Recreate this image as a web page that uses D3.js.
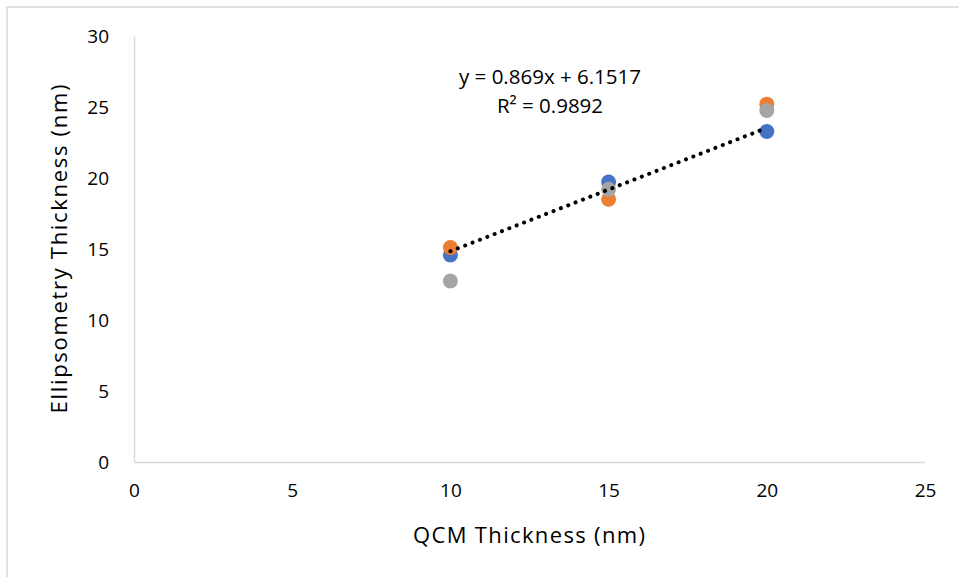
<!DOCTYPE html>
<html>
<head>
<meta charset="utf-8">
<script src="https://d3js.org/d3.v7.min.js"></script>
<style>
  html, body { margin: 0; padding: 0; background: #fff; }
  svg text { font-family: "Open Sans", "Noto Sans", sans-serif; fill: #000; }
</style>
</head>
<body>
<svg width="959" height="577"></svg>
<script>
// QCM thickness (x) for every series
var qcm = [10, 15, 20];
// ellipsometry thickness readings, one array per series
var seriesBlue = [14.58, 19.71, 23.27];
var seriesOrange = [15.1, 18.5, 25.2];
var seriesGray = [12.75, 19.2, 24.75];
var xTicks = [0, 5, 10, 15, 20, 25];
var yTicks = [0, 5, 10, 15, 20, 25, 30];
// linear trendline on the blue series
var slope = 0.869, intercept = 6.1517;
var trendLabel = ["y = 0.869x + 6.1517", "R² = 0.9892"];

var svg = d3.select("svg"),
    margin = {top: 36, right: 34, bottom: 115, left: 134},
    width = 959 - margin.left - margin.right,
    height = 577 - margin.top - margin.bottom;

// outer chart border
svg.append("rect")
    .attr("x", 7).attr("y", 7)
    .attr("width", 970).attr("height", 590)
    .attr("fill", "none")
    .attr("stroke", "#d9d9d9")
    .attr("stroke-width", 1.5);

var g = svg.append("g").attr("transform", "translate(" + margin.left + "," + margin.top + ")");

var x = d3.scaleLinear().domain([0, 25]).range([0, width]);
var y = d3.scaleLinear().domain([0, 30]).range([height, 0]);

// axes
var xAxis = g.append("g")
    .attr("transform", "translate(0," + height + ")")
    .call(d3.axisBottom(x).tickValues(xTicks).tickSize(0).tickPadding(22));
var yAxis = g.append("g")
    .call(d3.axisLeft(y).tickValues(yTicks).tickSize(0).tickPadding(25));

[xAxis, yAxis].forEach(function(a) {
  a.select(".domain").attr("stroke", "#d9d9d9").attr("stroke-width", 1.5);
  a.selectAll("text")
    .attr("font-size", 19)
    .attr("font-family", "'Open Sans', sans-serif")
    .attr("fill", "#000");
});

// points
var groups = [
  {color: "#4472c4", values: seriesBlue},
  {color: "#ed7d31", values: seriesOrange},
  {color: "#a5a5a5", values: seriesGray}
];
groups.forEach(function(s) {
  g.append("g").selectAll("circle")
    .data(s.values)
    .enter().append("circle")
      .attr("cx", function(d, i) { return x(qcm[i]); })
      .attr("cy", function(d) { return y(d); })
      .attr("r", 7.5)
      .attr("fill", s.color);
});

// dotted trendline
var x0 = d3.min(qcm), x1 = d3.max(qcm);
g.append("line")
    .attr("x1", x(x0)).attr("y1", y(slope * x0 + intercept))
    .attr("x2", x(x1)).attr("y2", y(slope * x1 + intercept))
    .attr("stroke", "#000")
    .attr("stroke-width", 4)
    .attr("stroke-linecap", "round")
    .attr("stroke-dasharray", "0.1 7.8");

// trendline equation
g.append("g").selectAll("text")
    .data(trendLabel)
    .enter().append("text")
      .attr("x", 416)
      .attr("y", function(d, i) { return 48 + i * 29; })
      .attr("text-anchor", "middle")
      .attr("font-size", 20.5)
      .text(function(d) { return d; });

// axis titles
svg.append("text")
    .attr("x", 529)
    .attr("y", 543)
    .attr("text-anchor", "middle")
    .attr("font-size", 22)
    .attr("textLength", 232)
    .attr("lengthAdjust", "spacing")
    .text("QCM Thickness (nm)");

svg.append("text")
    .attr("transform", "translate(67," + (margin.top + height / 2) + ") rotate(-90)")
    .attr("text-anchor", "middle")
    .attr("font-size", 22)
    .attr("textLength", 329)
    .attr("lengthAdjust", "spacing")
    .text("Ellipsometry Thickness (nm)");
</script>
</body>
</html>
